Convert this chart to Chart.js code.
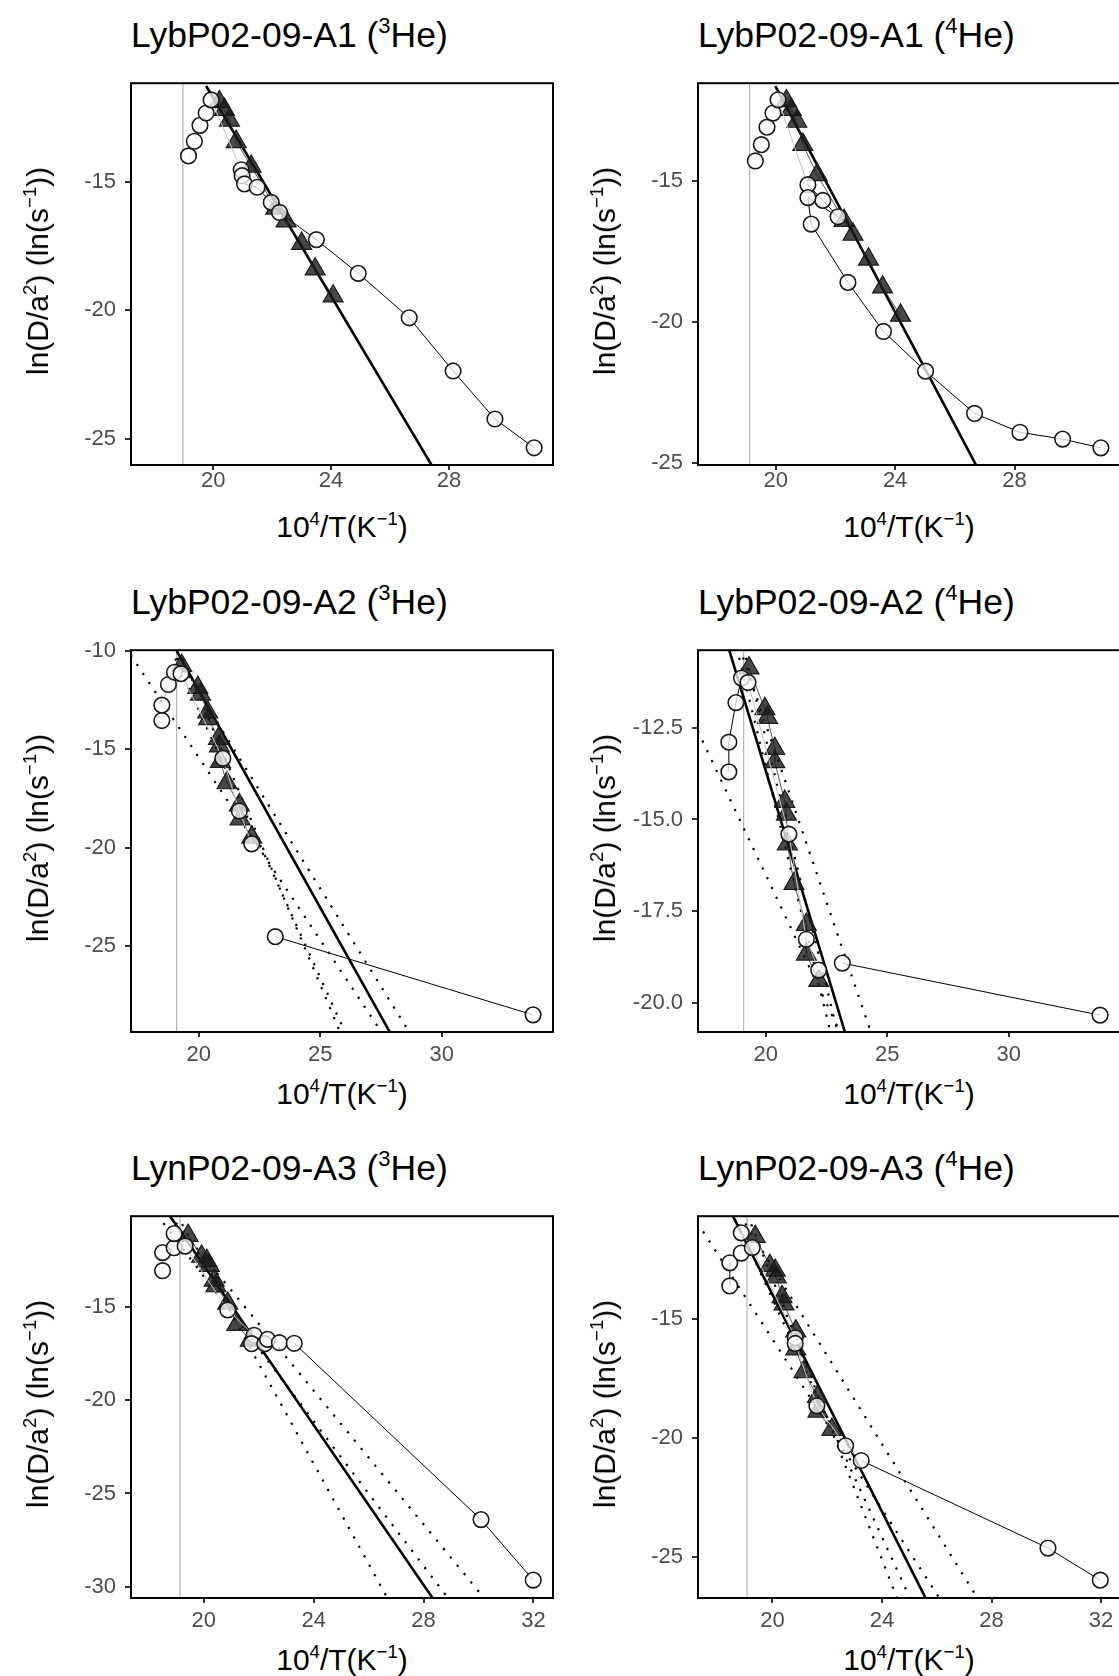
<!DOCTYPE html>
<html>
<head>
<meta charset="utf-8">
<script src="https://cdn.jsdelivr.net/npm/chart.js@4.4.1/dist/chart.umd.min.js"></script>
<style>
  body { margin: 0; width: 1119px; height: 1676px; overflow: hidden; background: #fff; position: relative;
         font-family: "Liberation Sans", Arial, Helvetica, sans-serif; }
  canvas { position: absolute; }
  .title { position: absolute; font-size: 35.5px; line-height: 40px; height: 40px; color: #000; white-space: nowrap; }
  .ytitle, .xtitle { position: absolute; font-size: 30px; line-height: 34px; color: #000; white-space: nowrap; }
  .ytitle { transform: translate(-50%, -50%) rotate(-90deg); }
  .xtitle { transform: translate(-50%, -50%); }
  sup { font-size: 0.62em; position: relative; top: -0.62em; vertical-align: baseline; line-height: 0; }
</style>
</head>
<body>
<script>
// ---- LybP02-09-A1, 3He ----
const a1He3Steps = [[19.16,-13.99],[19.36,-13.42],[19.55,-12.80],[19.76,-12.32],[19.93,-11.81],[20.95,-14.53],[20.98,-14.76],[21.06,-15.08],[21.49,-15.21],[21.97,-15.80],[22.25,-16.19],[23.50,-17.25],[24.92,-18.56],[26.65,-20.29],[28.14,-22.36],[29.56,-24.23],[30.89,-25.35]]
const a1He3Model = [[20.21,-11.89],[20.38,-12.19],[20.55,-12.61],[20.78,-13.44],[21.29,-14.40],[22.12,-16.03],[22.47,-16.53],[23.00,-17.40],[23.46,-18.40],[24.07,-19.45]]
const a1He3Fit = [[19.76,-11.27],[27.44,-26.08]]
const a1He3Bounds = []

// ---- LybP02-09-A1, 4He ----
const a1He4Steps = [[19.32,-14.29],[19.52,-13.71],[19.71,-13.09],[19.91,-12.59],[20.08,-12.12],[21.08,-15.13],[21.58,-15.69],[22.09,-16.27],[21.08,-15.59],[21.19,-16.53],[22.42,-18.60],[23.61,-20.34],[25.02,-21.75],[26.66,-23.25],[28.18,-23.92],[29.61,-24.16],[30.89,-24.47]]
const a1He4Model = [[20.36,-12.16],[20.52,-12.47],[20.71,-12.89],[20.91,-13.71],[21.39,-14.78],[22.29,-16.41],[22.59,-16.90],[23.11,-17.78],[23.58,-18.77],[24.18,-19.77]]
const a1He4Fit = [[19.99,-11.63],[26.75,-25.16]]
const a1He4Bounds = []

// ---- LybP02-09-A2, 3He ----
const a2He3Steps = [[18.48,-13.55],[18.48,-12.77],[18.75,-11.72],[19.00,-11.10],[19.27,-11.17],[20.99,-15.47],[21.67,-18.14],[22.18,-19.81],[23.15,-24.52],[33.76,-28.49]]
const a2He3Model = [[19.30,-10.77],[19.96,-11.88],[20.07,-12.22],[20.37,-13.13],[20.40,-13.47],[20.81,-14.47],[20.85,-14.85],[20.89,-15.64],[21.16,-16.72],[21.67,-17.84],[21.70,-18.56],[22.18,-19.48]]
const a2He3Fit = [[19.04,-9.9],[27.88,-29.4]]
const a2He3Bounds = [
  [[17.20,-10.23],[27.54,-29.4]],
  [[18.85,-9.9],[26.03,-29.4]],
  [[19.19,-9.9],[25.83,-29.4]],
  [[18.88,-9.9],[28.68,-29.4]]
]

// ---- LybP02-09-A2, 4He ----
const a2He4Steps = [[18.48,-13.70],[18.48,-12.89],[18.77,-11.81],[19.00,-11.14],[19.27,-11.26],[20.95,-15.40],[21.67,-18.27],[22.18,-19.11],[23.15,-18.92],[33.76,-20.34]]
const a2He4Model = [[19.31,-10.87],[19.96,-11.98],[20.07,-12.22],[20.37,-13.07],[20.37,-13.43],[20.78,-14.51],[20.85,-14.86],[20.89,-15.67],[21.16,-16.75],[21.67,-17.87],[21.67,-18.68],[22.18,-19.40]]
const a2He4Fit = [[18.46,-10.3],[23.28,-20.85]]
const a2He4Bounds = [
  [[17.20,-12.58],[23.09,-20.85]],
  [[18.80,-10.3],[22.68,-20.85]],
  [[19.08,-10.3],[22.97,-20.85]],
  [[18.92,-10.3],[24.35,-20.85]]
]

// ---- LynP02-09-A3, 3He ----
const a3He3Steps = [[18.50,-13.06],[18.50,-12.09],[18.92,-11.83],[18.92,-11.07],[19.32,-11.74],[20.87,-15.16],[21.83,-16.52],[21.74,-16.97],[22.22,-16.97],[22.32,-16.74],[22.75,-16.92],[23.29,-16.95],[30.09,-26.40],[31.99,-29.64]]
const a3He3Model = [[19.43,-11.18],[19.92,-12.30],[20.11,-12.53],[20.20,-12.79],[20.38,-13.58],[20.44,-13.88],[20.87,-14.81],[21.20,-15.95],[21.69,-16.80]]
const a3He3Fit = [[18.73,-10.05],[28.35,-30.65]]
const a3He3Bounds = [
  [[19.02,-10.05],[26.70,-30.65]],
  [[18.29,-10.05],[28.91,-30.65]],
  [[18.73,-10.05],[30.23,-30.65]]
]

// ---- LynP02-09-A3, 4He ----
const a3He4Steps = [[18.44,-13.61],[18.44,-12.64],[18.86,-12.23],[18.86,-11.38],[19.26,-12.00],[20.83,-15.79],[20.83,-16.03],[21.62,-18.65],[22.67,-20.33],[23.24,-20.95],[30.06,-24.63],[31.97,-25.98]]
const a3He4Model = [[19.37,-11.54],[19.90,-12.76],[20.10,-12.96],[20.14,-13.24],[20.35,-14.07],[20.42,-14.38],[20.85,-15.51],[20.85,-16.27],[21.15,-17.23],[21.64,-18.27],[21.66,-18.89],[22.17,-19.65]]
const a3He4Fit = [[18.52,-10.6],[25.62,-26.8]]
const a3He4Bounds = [
  [[17.25,-10.94],[26.13,-26.8]],
  [[19.08,-10.6],[24.57,-26.8]],
  [[18.58,-10.6],[25.05,-26.8]],
  [[18.80,-10.6],[27.52,-26.8]]
]

// axis ticks
const xTicksA1 = [20, 24, 28]
const xTicksA2 = [20, 25, 30]
const xTicksA3 = [20, 24, 28, 32]
const yTicksA1He3 = [-15, -20, -25]
const yTicksA1He4 = [-15, -20, -25]
const yTicksA2He3 = [-10, -15, -20, -25]
const yTicksA2He4 = [-12.5, -15, -17.5, -20]
const yLabelsA2He4 = ['-12.5', '-15.0', '-17.5', '-20.0']
const yTicksA3He3 = [-15, -20, -25, -30]
const yTicksA3He4 = [-15, -20, -25]

// vertical reference line (10^4/T)
const closureLine = [18.97, 19.13, 19.09, 19.09, 19.13, 19.07]

// layout
const BOX_W = 422, BOX_H = 388
const COL_LEFT = [131, 698]
const ROW_TOP = [77, 644, 1210]
const ROW_XPAD = [-2, 5, 5]
const YW = 95, XH = 40, PAD = 16

Chart.defaults.font.family = '"Liberation Sans", Arial, Helvetica, sans-serif'

// per-panel connector style for the step path: g = light grey, k = black, - = not drawn
const panels = [
  { title: 'LybP02-09-A1 (<sup>3</sup>He)', col: 0, row: 0, steps: a1He3Steps, model: a1He3Model, fit: a1He3Fit, bounds: a1He3Bounds,
    path: 'gggggkkkkkkkkkkk', x: [17.21, 31.53], y: [-26.02, -11.16], xTicks: xTicksA1, yTicks: yTicksA1He3 },
  { title: 'LybP02-09-A1 (<sup>4</sup>He)', col: 1, row: 0, steps: a1He4Steps, model: a1He4Model, fit: a1He4Fit, bounds: a1He4Bounds,
    path: 'gggggkkkkkkkkkkk', x: [17.40, 31.53], y: [-25.08, -11.53], xTicks: xTicksA1, yTicks: yTicksA1He4 },
  { title: 'LybP02-09-A2 (<sup>3</sup>He)', col: 0, row: 1, steps: a2He3Steps, model: a2He3Model, fit: a2He3Fit, bounds: a2He3Bounds,
    path: 'ggggggg-k', x: [17.21, 34.58], y: [-29.36, -9.98], xTicks: xTicksA2, yTicks: yTicksA2He3 },
  { title: 'LybP02-09-A2 (<sup>4</sup>He)', col: 1, row: 1, steps: a2He4Steps, model: a2He4Model, fit: a2He4Fit, bounds: a2He4Bounds,
    path: 'kkkkggg-k', x: [17.21, 34.58], y: [-20.80, -10.38], xTicks: xTicksA2, yTicks: yTicksA2He4, yLabels: yLabelsA2He4 },
  { title: 'LynP02-09-A3 (<sup>3</sup>He)', col: 0, row: 2, steps: a3He3Steps, model: a3He3Model, fit: a3He3Fit, bounds: a3He3Bounds,
    path: 'gggggggggggkk', x: [17.35, 32.71], y: [-30.60, -10.14], xTicks: xTicksA3, yTicks: yTicksA3He3 },
  { title: 'LynP02-09-A3 (<sup>4</sup>He)', col: 1, row: 2, steps: a3He4Steps, model: a3He4Model, fit: a3He4Fit, bounds: a3He4Bounds,
    path: 'kggggggggkk', x: [17.28, 32.69], y: [-26.73, -10.68], xTicks: xTicksA3, yTicks: yTicksA3He4 }
]

const toPts = arr => arr.map(([x, y]) => ({ x, y }))
const segColor = { g: '#c4c4c4', k: '#000', '-': 'rgba(0,0,0,0)' }

// panel border drawn over the data, like ggplot's panel.border
const boxPlugin = {
  id: 'box',
  afterDatasetsDraw(chart) {
    const { ctx, chartArea: a } = chart
    ctx.save()
    ctx.strokeStyle = '#000'
    ctx.lineWidth = 2
    ctx.strokeRect(a.left, a.top, a.right - a.left, a.bottom - a.top)
    ctx.restore()
  }
}

function addText(cls, html, left, top) {
  const d = document.createElement('div')
  d.className = cls
  d.innerHTML = html
  d.style.left = left + 'px'
  d.style.top = top + 'px'
  document.body.appendChild(d)
}

panels.forEach((p, i) => {
  const left = COL_LEFT[p.col], top = ROW_TOP[p.row]
  const W = YW + BOX_W + PAD, H = PAD + BOX_H + XH

  const cv = document.createElement('canvas')
  cv.width = W
  cv.height = H
  cv.style.left = (left - YW) + 'px'
  cv.style.top = (top - PAD) + 'px'
  cv.style.width = W + 'px'
  cv.style.height = H + 'px'
  document.body.appendChild(cv)

  const datasets = []
  // measured steps (open circles), drawn on top
  datasets.push({
    data: toPts(p.steps), showLine: true, borderColor: '#000', borderWidth: 1,
    segment: { borderColor: c => segColor[p.path[c.p0DataIndex] || 'k'] },
    pointStyle: 'circle', pointRadius: 7.8, pointBorderWidth: 1.6,
    pointBorderColor: '#1a1a1a', pointBackgroundColor: 'rgba(255,255,255,0.75)', clip: 0
  })
  // model steps (triangles)
  datasets.push({
    data: toPts(p.model), showLine: true, borderColor: '#333', borderWidth: 0.8,
    pointStyle: 'triangle', pointRadius: 11.5, pointBorderWidth: 1.2,
    pointBorderColor: '#1a1a1a', pointBackgroundColor: 'rgba(26,26,26,0.8)', clip: 0
  })
  // Arrhenius fit
  datasets.push({ data: toPts(p.fit), showLine: true, borderColor: '#000', borderWidth: 2.6, pointRadius: 0, clip: 0 })
  // bounding domains (dotted)
  p.bounds.forEach(b => datasets.push({
    data: toPts(b), showLine: true, borderColor: '#000', borderWidth: 2.2,
    borderDash: [2.2, 8.6], pointRadius: 0, clip: 0
  }))
  // vertical reference line
  datasets.push({
    data: [{ x: closureLine[i], y: p.y[0] }, { x: closureLine[i], y: p.y[1] }],
    showLine: true, borderColor: '#ababab', borderWidth: 1.1, pointRadius: 0, clip: 0
  })

  new Chart(cv, {
    type: 'scatter',
    data: { datasets },
    options: {
      responsive: false, animation: false, devicePixelRatio: 1,
      layout: { padding: { top: PAD, right: PAD, left: 0, bottom: 0 } },
      plugins: { legend: { display: false }, tooltip: { enabled: false } },
      scales: {
        x: {
          type: 'linear', min: p.x[0], max: p.x[1],
          afterBuildTicks: s => { s.ticks = p.xTicks.map(v => ({ value: v })) },
          afterFit: s => { s.height = XH },
          grid: { drawOnChartArea: false, drawTicks: true, tickLength: 5, color: '#333', lineWidth: 2 },
          border: { display: false },
          ticks: { autoSkip: false, maxRotation: 0, padding: ROW_XPAD[p.row], color: '#4d4d4d', font: { size: 22 },
                   callback: (v, k) => String(p.xTicks[k]) }
        },
        y: {
          type: 'linear', min: p.y[0], max: p.y[1],
          afterBuildTicks: s => { s.ticks = p.yTicks.map(v => ({ value: v })) },
          afterFit: s => { s.width = YW },
          grid: { drawOnChartArea: false, drawTicks: true, tickLength: 6, color: '#333', lineWidth: 2 },
          border: { display: false },
          ticks: { autoSkip: false, padding: 9, color: '#4d4d4d', font: { size: 22 },
                   callback: (v, k) => p.yLabels ? p.yLabels[k] : String(p.yTicks[k]) }
        }
      }
    },
    plugins: [boxPlugin]
  })

  addText('title', p.title, left, top - 62)
  addText('ytitle', 'ln(D/a<sup>2</sup>) (ln(s<sup>\u22121</sup>))', left - 93.5, top + BOX_H / 2)
  addText('xtitle', '10<sup>4</sup>/T(K<sup>\u22121</sup>)', left + BOX_W / 2, top + BOX_H + 62)
})
</script>
</body>
</html>
